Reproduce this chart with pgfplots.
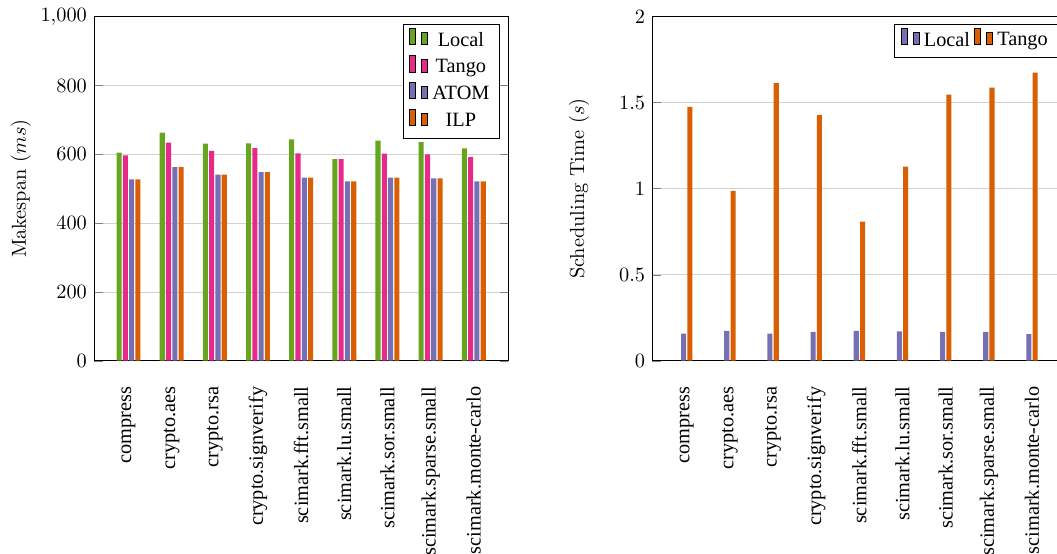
\documentclass[border=0pt]{standalone}
\usepackage{fontspec}
\newfontfamily\tnr{Liberation Serif}
\usepackage{pgfplots}
\pgfplotsset{compat=1.18}
\definecolor{dgreen}{HTML}{66A61E}
\definecolor{dpink}{HTML}{E7298A}
\definecolor{dpurple}{HTML}{7570B3}
\definecolor{dorange}{HTML}{D95F02}
\begin{document}
\begin{tikzpicture}
\pgfplotsset{
  mybar/.style={
    scale only axis, width=204.1pt, height=169.5pt,
    anchor=north west,
    ybar=0.6pt, bar width=2.5pt,
    xmin=-0.8, xmax=8.8, ymin=0,
    xtick={0,...,8},
    xticklabels={compress,crypto.aes,crypto.rsa,crypto.signverify,scimark.fft.small,scimark.lu.small,scimark.sor.small,scimark.sparse.small,scimark.monte-carlo},
    xticklabel style={rotate=90, anchor=east, font=\tnr},
    xticklabel shift=5pt,
    x tick style={draw=none},
    ymajorgrids, grid style={gray!35},
    every axis y label/.style={at={(rel axis cs:0,0.5)}, xshift=-36pt, rotate=90, anchor=center},
    legend style={font=\tnr, draw=black, row sep=1pt},
    legend cell align={center},
  }
}
\begin{axis}[mybar, at={(46.3pt,-8.2pt)}, ymax=1000, ytick={0,200,...,1000},
  ylabel={Makespan ($ms$)}]
\addplot[fill=dgreen, draw=none] coordinates {(0,605) (1,663) (2,631) (3,632) (4,643) (5,586) (6,640) (7,635) (8,617)};
\addplot[fill=dpink, draw=none] coordinates {(0,597) (1,634) (2,610) (3,618) (4,603) (5,586) (6,602) (7,600) (8,592)};
\addplot[fill=dpurple, draw=none] coordinates {(0,527) (1,563) (2,541) (3,548) (4,532) (5,521) (6,532) (7,530) (8,521)};
\addplot[fill=dorange, draw=none] coordinates {(0,527) (1,563) (2,541) (3,548) (4,532) (5,521) (6,532) (7,530) (8,521)};
\legend{Local,Tango,ATOM,ILP}
\end{axis}
\begin{axis}[mybar, at={(321.3pt,-8.2pt)}, ymax=2, ytick={0,0.5,1,1.5,2},
  ylabel={Scheduling Time ($s$)}, legend columns=2]
\addplot[fill=dpurple, draw=none] coordinates {(0,0.157) (1,0.173) (2,0.157) (3,0.167) (4,0.173) (5,0.171) (6,0.167) (7,0.167) (8,0.155)};
\addplot[fill=dorange, draw=none] coordinates {(0,1.475) (1,0.987) (2,1.613) (3,1.427) (4,0.808) (5,1.128) (6,1.547) (7,1.587) (8,1.674)};
\legend{Local,Tango}
\end{axis}
\pgfresetboundingbox
\useasboundingbox (0pt,0pt) rectangle (520.7pt,-272.9pt);
\end{tikzpicture}
\end{document}
